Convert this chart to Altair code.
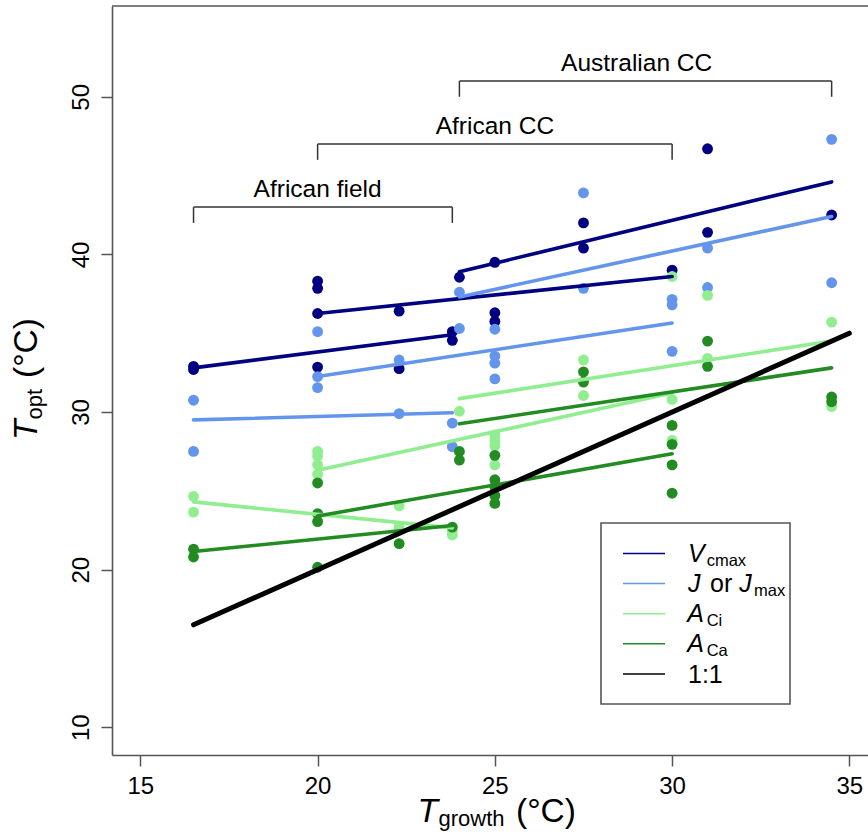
import altair as alt
import pandas as pd

FONT = "Liberation Sans"
FRAME = "#555555"

# ---------------- data ----------------
series_names = ["Vcmax", "J", "ACi", "ACa"]
series_colors = ["#000080", "#6495ED", "#90EE90", "#228B22"]

vc_x = [16.5, 16.5, 20, 20, 20, 20, 22.3, 22.3, 23.8, 23.8, 24, 25, 25, 25, 27.5, 27.5, 30, 31, 31, 34.5]
vc_y = [32.9, 32.7, 38.3, 37.85, 36.25, 32.85, 36.4, 32.75, 35.1, 34.55, 38.55, 39.5, 36.3, 35.75, 42.0, 40.4, 39.0, 46.7, 41.4, 42.5]

j_x = [16.5, 16.5, 20, 20, 20, 22.3, 22.3, 23.8, 23.8, 24, 24, 25, 25, 25, 25, 27.5, 27.5, 30, 30, 30, 31, 31, 34.5, 34.5]
j_y = [30.75, 27.5, 35.1, 32.25, 31.55, 33.3, 29.9, 29.3, 27.8, 37.6, 35.3, 35.25, 33.55, 33.1, 32.1, 43.9, 37.85, 37.15, 36.8, 33.85, 40.4, 37.9, 47.3, 38.2]

aci_x = [16.5, 16.5, 20, 20, 20, 20, 22.3, 22.3, 23.8, 23.8, 24, 25, 25, 25, 25, 27.5, 27.5, 30, 30, 30, 31, 31, 34.5, 34.5]
aci_y = [24.65, 23.65, 27.5, 27.2, 26.65, 26.05, 24.05, 22.7, 22.45, 22.2, 30.05, 28.55, 28.2, 27.85, 26.65, 33.3, 31.05, 38.6, 30.8, 28.2, 37.4, 33.4, 35.7, 30.35]

aca_x = [16.5, 16.5, 20, 20, 20, 20, 22.3, 23.8, 24, 24, 25, 25, 25, 25, 25, 27.5, 27.5, 30, 30, 30, 30, 31, 31, 34.5, 34.5]
aca_y = [21.3, 20.8, 25.5, 23.55, 23.05, 20.15, 21.65, 22.7, 27.5, 26.95, 27.25, 25.7, 25.25, 24.7, 24.2, 32.55, 31.9, 29.15, 27.95, 26.65, 24.85, 34.5, 32.9, 30.95, 30.65]

# regression segments: one per series and study group
group_x1 = [16.5, 20, 24]
group_x2 = [23.8, 30, 34.5]
seg_y1 = {"Vcmax": [32.8, 36.25, 38.9], "J": [29.5, 32.25, 37.3],
          "ACi": [24.3, 26.3, 30.85], "ACa": [21.15, 23.4, 29.25]}
seg_y2 = {"Vcmax": [34.9, 38.6, 44.6], "J": [29.95, 35.65, 42.4],
          "ACi": [22.65, 31.2, 34.5], "ACa": [22.8, 27.35, 32.8]}

one_x = [16.5, 35]

# study group brackets
bracket_labels = ["African field", "African CC", "Australian CC"]
bracket_start = [16.5, 20, 24]
bracket_end = [23.8, 30, 34.5]
bracket_level = [43, 47, 51]
bracket_text_x = [20, 25, 29]

x_ticks = [15, 20, 25, 30, 35]
y_ticks = [10, 20, 30, 40, 50]

# ---------------- tables ----------------
pts = pd.concat([
    pd.DataFrame({"x": vc_x, "y": vc_y, "s": "Vcmax"}),
    pd.DataFrame({"x": j_x, "y": j_y, "s": "J"}),
    pd.DataFrame({"x": aci_x, "y": aci_y, "s": "ACi"}),
    pd.DataFrame({"x": aca_x, "y": aca_y, "s": "ACa"}),
], ignore_index=True)
pts["o"] = pts["s"].map({n: i for i, n in enumerate(series_names)})

segs = []
for n in series_names:
    for i in range(3):
        segs.append({"s": n, "x": group_x1[i], "x2": group_x2[i], "y": seg_y1[n][i], "y2": seg_y2[n][i]})
segs = pd.DataFrame(segs)

one = pd.DataFrame({"x": [one_x[0]], "x2": [one_x[1]], "y": [one_x[0]], "y2": [one_x[1]]})

br = pd.DataFrame({"lab": bracket_labels, "x": bracket_start, "x2": bracket_end,
                   "lev": bracket_level, "tx": bracket_text_x})
br["leg"] = br["lev"] - 1
br["ty"] = br["lev"] + 0.62

W, H = 756, 749
xs = alt.Scale(domain=[14.2, 14.2 + W / 35.45], nice=False, zero=False)
ys = alt.Scale(domain=[8.24, 55.76], nice=False, zero=False)
cs = alt.Scale(domain=series_names, range=series_colors)

xax = alt.Axis(values=x_ticks, title=None, grid=False, tickSize=11, tickColor=FRAME, tickWidth=1.5,
               domainColor=FRAME, domainWidth=1.6, labelFont=FONT, labelFontSize=24,
               labelColor="black", labelPadding=8, labelFlush=False)
yax = alt.Axis(values=y_ticks, title=None, grid=False, tickSize=11, tickColor=FRAME, tickWidth=1.5,
               domainColor=FRAME, domainWidth=1.6, labelFont=FONT, labelFontSize=24,
               labelColor="black", labelPadding=13, labelAngle=270, labelAlign="center",
               labelBaseline="alphabetic", labelFlush=False)

points = alt.Chart(pts).mark_circle(size=118, opacity=1).encode(
    x=alt.X("x:Q", scale=xs, axis=xax),
    y=alt.Y("y:Q", scale=ys, axis=yax),
    color=alt.Color("s:N", scale=cs, legend=None),
    order=alt.Order("o:Q"),
)

lines = alt.Chart(segs).mark_rule(strokeWidth=3.6, strokeCap="round").encode(
    x=alt.X("x:Q", scale=xs), x2="x2:Q",
    y=alt.Y("y:Q", scale=ys), y2="y2:Q",
    color=alt.Color("s:N", scale=cs, legend=None),
)

oneline = alt.Chart(one).mark_rule(strokeWidth=5, strokeCap="round", color="black").encode(
    x=alt.X("x:Q", scale=xs), x2="x2:Q", y=alt.Y("y:Q", scale=ys), y2="y2:Q")

br_h = alt.Chart(br).mark_rule(color="#333333", strokeWidth=1.5).encode(
    x=alt.X("x:Q", scale=xs), x2="x2:Q", y=alt.Y("lev:Q", scale=ys))
br_l = alt.Chart(br).mark_rule(color="#333333", strokeWidth=1.5).encode(
    x=alt.X("x:Q", scale=xs), y=alt.Y("lev:Q", scale=ys), y2="leg:Q")
br_r = alt.Chart(br).mark_rule(color="#333333", strokeWidth=1.5).encode(
    x=alt.X("x2:Q", scale=xs), y=alt.Y("lev:Q", scale=ys), y2="leg:Q")
br_t = alt.Chart(br).mark_text(font=FONT, fontSize=24.5, baseline="alphabetic", align="center",
                                color="black").encode(
    x=alt.X("tx:Q", scale=xs), y=alt.Y("ty:Q", scale=ys), text="lab:N")

frame_top = alt.Chart(pd.DataFrame({"a": [0]})).mark_rule(color=FRAME, strokeWidth=1.6).encode(
    x=alt.value(0), x2=alt.value(W), y=alt.value(0))


def label(text, px, py, size, italic=False, angle=0):
    kw = dict(font=FONT, fontSize=size, align="left", baseline="alphabetic", color="black",
              fontStyle="italic" if italic else "normal")
    if angle:
        kw["angle"] = angle
    return alt.Chart(pd.DataFrame({"t": [text]})).mark_text(**kw).encode(
        x=alt.value(px), y=alt.value(py), text="t:N")


OX, OY = 112, 6  # plot origin in the page
texts = []
# x axis title
texts += [label("T", 417.6 - OX, 822 - OY, 33.5, italic=True),
          label("growth", 438.5 - OX, 826 - OY, 22),
          label("(°C)", 516 - OX, 822 - OY, 33.5)]
# y axis title (rotated)
texts += [label("T", 37.3 - OX, 440 - OY, 33.5, italic=True, angle=270),
          label("opt", 41.5 - OX, 419.5 - OY, 22, angle=270),
          label("(°C)", 37.3 - OX, 378 - OY, 33.5, angle=270)]

# legend
leg_box = alt.Chart(pd.DataFrame({"a": [0]})).mark_rect(fill="white", stroke=FRAME, strokeWidth=1.6).encode(
    x=alt.value(601 - OX), x2=alt.value(790 - OX), y=alt.value(523 - OY), y2=alt.value(704 - OY))
leg_colors = series_colors + ["black"]
leg_layers = [leg_box]
for i, c in enumerate(leg_colors):
    ly = 553.5 + i * 30.1
    leg_layers.append(alt.Chart(pd.DataFrame({"a": [0]})).mark_rule(color=c, strokeWidth=1.5).encode(
        x=alt.value(623 - OX), x2=alt.value(665 - OX), y=alt.value(ly - OY)))
rows = [553.5 + i * 30.1 for i in range(5)]
leg_layers += [
    label("V", 688 - OX, rows[0] + 8.5 - OY, 25, italic=True),
    label("cmax", 706.7 - OX, rows[0] + 12.5 - OY, 16.5),
    label("J", 688 - OX, rows[1] + 8 - OY, 25, italic=True),
    label("or", 710 - OX, rows[1] + 8 - OY, 25),
    label("J", 739.3 - OX, rows[1] + 8 - OY, 25, italic=True),
    label("max", 754 - OX, rows[1] + 12.5 - OY, 16.5),
    label("A", 687.3 - OX, rows[2] + 8 - OY, 25, italic=True),
    label("Ci", 706.7 - OX, rows[2] + 12.5 - OY, 16.5),
    label("A", 687.3 - OX, rows[3] + 8 - OY, 25, italic=True),
    label("Ca", 706.7 - OX, rows[3] + 12.5 - OY, 16.5),
    label("1:1", 688 - OX, rows[4] + 9 - OY, 25),
]

chart = alt.layer(
    points, lines, oneline, br_h, br_l, br_r, br_t, frame_top, *leg_layers, *texts
).properties(
    width=W, height=H,
    autosize=alt.AutoSizeParams(type="none"),
    padding={"left": OX, "top": OY, "right": 0, "bottom": 837 - OY - H},
    background="white",
).configure_view(stroke=None)

chart.save("out.html", embed_options={"renderer": "svg", "actions": False})
